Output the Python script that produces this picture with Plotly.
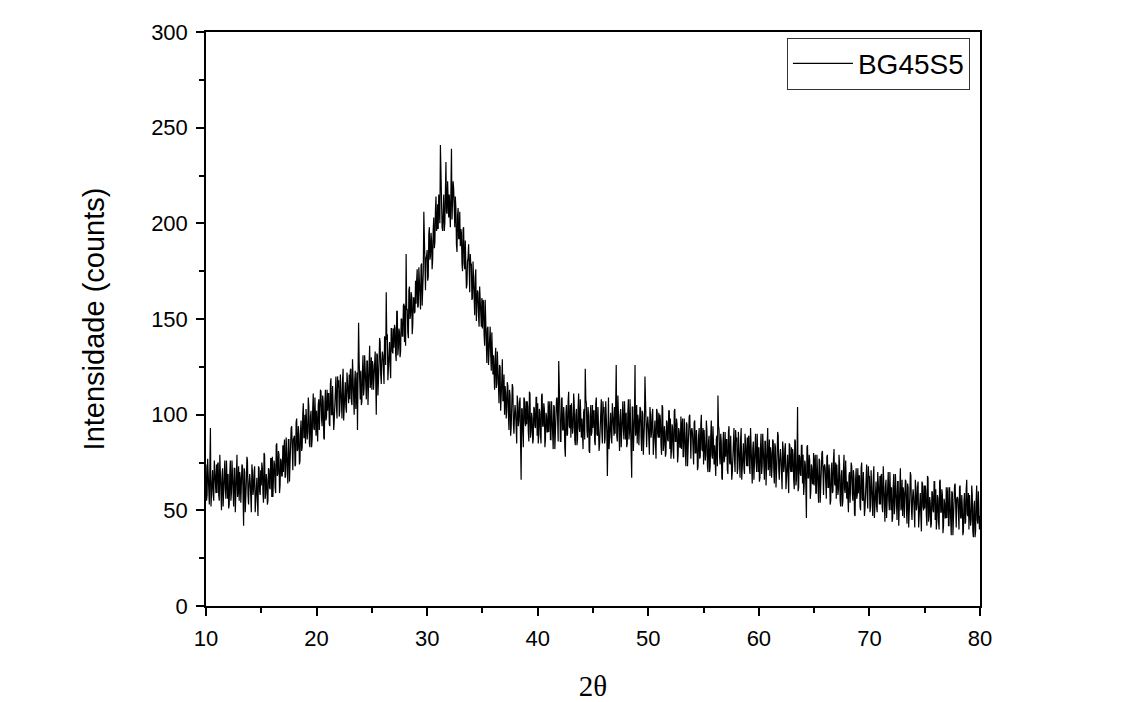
import plotly.graph_objects as go

# 2-theta start (degrees) and step of the sampled pattern
theta_start = 10.0
theta_step = 0.05

# Intensity (counts).
# rNN: samples at NN.0, NN.1, ... NN.9 ; sNN: samples at NN.05, NN.15, ... NN.95
r10 = [74, 58, 69, 53, 93, 62, 71, 55, 67, 59]
s10 = [55, 77, 61, 73, 52, 70, 58, 76, 63, 74]
r11 = [59, 75, 55, 67, 50, 72, 62, 76, 56, 69]
s11 = [74, 58, 79, 55, 68, 52, 71, 61, 76, 56]
r12 = [69, 53, 76, 59, 65, 52, 72, 57, 79, 60]
s12 = [51, 69, 55, 76, 60, 72, 49, 67, 57, 73]
r13 = [55, 67, 60, 73, 42, 70, 54, 78, 58, 64]
s13 = [70, 54, 74, 58, 72, 49, 65, 76, 53, 69]
r14 = [65, 49, 70, 61, 73, 55, 67, 47, 72, 58]
s14 = [52, 74, 58, 70, 49, 67, 55, 73, 60, 71]
r15 = [63, 72, 54, 79, 59, 66, 55, 71, 61, 77]
s15 = [75, 59, 80, 56, 69, 53, 72, 62, 77, 57]
r16 = [78, 63, 74, 59, 85, 69, 79, 63, 76, 68]
s16 = [57, 76, 62, 84, 68, 81, 59, 77, 68, 84]
r17 = [70, 87, 68, 80, 64, 87, 78, 93, 73, 87]
s17 = [82, 67, 88, 72, 87, 65, 82, 94, 71, 88]
r18 = [89, 74, 98, 82, 89, 76, 97, 83, 106, 88]
s18 = [73, 96, 81, 94, 74, 92, 81, 100, 88, 100]
r19 = [85, 97, 91, 104, 83, 102, 87, 111, 92, 98]
s19 = [103, 87, 109, 85, 99, 83, 103, 93, 109, 89]
r20 = [102, 86, 108, 99, 112, 94, 107, 87, 113, 99]
s20 = [87, 105, 92, 113, 98, 110, 88, 106, 97, 113]
r21 = [102, 111, 94, 119, 100, 107, 97, 113, 104, 120]
s21 = [111, 95, 116, 100, 115, 92, 109, 120, 98, 114]
r22 = [118, 102, 114, 98, 124, 108, 117, 101, 114, 106]
s22 = [99, 121, 106, 118, 97, 116, 104, 122, 110, 121]
r23 = [108, 124, 105, 117, 100, 123, 113, 92, 148, 121]
s23 = [123, 107, 129, 105, 118, 103, 122, 112, 128, 108]
r24 = [123, 107, 131, 114, 120, 108, 128, 113, 136, 117]
s24 = [105, 123, 110, 131, 115, 128, 105, 123, 114, 130]
r25 = [113, 126, 119, 133, 100, 131, 116, 140, 121, 128]
s25 = [128, 113, 133, 118, 132, 110, 127, 138, 116, 133]
r26 = [131, 116, 138, 164, 142, 125, 138, 119, 145, 132]
s26 = [118, 141, 126, 139, 118, 137, 126, 145, 133, 145]
r27 = [135, 145, 128, 154, 135, 143, 133, 150, 141, 158]
s27 = [147, 132, 154, 131, 145, 130, 150, 141, 157, 138]
r28 = [157, 184, 155, 140, 167, 152, 162, 147, 161, 154]
s28 = [136, 155, 143, 165, 150, 164, 142, 161, 153, 170]
r29 = [158, 176, 157, 171, 155, 179, 170, 206, 167, 182]
s29 = [170, 156, 177, 163, 178, 157, 174, 187, 165, 183]
r30 = [186, 172, 198, 183, 191, 181, 203, 190, 214, 198]
s30 = [170, 194, 181, 195, 176, 197, 187, 207, 196, 210]
r31 = [197, 210, 241, 217, 196, 215, 200, 232, 205, 212]
s31 = [215, 200, 221, 198, 212, 196, 216, 206, 222, 203]
r32 = [215, 198, 239, 208, 218, 198, 208, 185, 208, 192]
s32 = [200, 217, 202, 222, 204, 214, 189, 204, 192, 206]
r33 = [188, 195, 175, 198, 176, 181, 168, 182, 170, 184]
s33 = [197, 179, 197, 179, 191, 166, 180, 189, 164, 178]
r34 = [179, 161, 170, 152, 176, 157, 164, 146, 156, 146]
s34 = [160, 180, 162, 172, 149, 165, 151, 167, 152, 161]
r35 = [145, 159, 136, 146, 127, 146, 134, 146, 123, 134]
s35 = [160, 142, 160, 134, 145, 126, 143, 131, 143, 121]
r36 = [131, 113, 135, 116, 121, 106, 125, 108, 129, 108]
s36 = [113, 129, 114, 133, 116, 126, 102, 118, 107, 121]
r37 = [100, 111, 103, 115, 92, 110, 93, 116, 95, 100]
s37 = [115, 98, 117, 100, 113, 89, 104, 114, 90, 105]
r38 = [101, 85, 106, 97, 109, 66, 103, 83, 108, 94]
s38 = [88, 110, 94, 106, 85, 103, 91, 109, 96, 107]
r39 = [95, 104, 86, 111, 91, 98, 87, 103, 93, 109]
s39 = [107, 91, 112, 88, 101, 85, 104, 94, 109, 89]
r40 = [106, 90, 101, 85, 111, 94, 103, 87, 99, 91]
s40 = [85, 103, 89, 110, 94, 106, 83, 101, 91, 107]
r41 = [91, 107, 87, 99, 82, 104, 94, 108, 88, 128]
s41 = [103, 87, 107, 91, 105, 82, 98, 109, 86, 102]
r42 = [102, 86, 109, 92, 98, 78, 105, 90, 112, 93]
s42 = [86, 108, 92, 104, 83, 101, 89, 107, 94, 105]
r43 = [88, 100, 93, 106, 84, 103, 87, 111, 91, 97]
s43 = [106, 90, 111, 87, 100, 84, 103, 93, 108, 88]
r44 = [98, 82, 103, 124, 106, 88, 100, 80, 105, 91]
s44 = [83, 101, 87, 108, 92, 104, 81, 99, 89, 105]
r45 = [93, 102, 84, 109, 89, 96, 85, 101, 91, 107]
s45 = [102, 86, 106, 90, 104, 81, 97, 108, 85, 101]
r46 = [104, 88, 99, 68, 109, 92, 101, 85, 97, 89]
s46 = [85, 107, 91, 103, 82, 100, 88, 106, 93, 104]
r47 = [90, 126, 86, 98, 81, 103, 93, 107, 87, 100]
s47 = [105, 89, 110, 86, 99, 83, 102, 92, 107, 87]
r48 = [101, 85, 108, 91, 97, 67, 104, 89, 126, 92]
s48 = [83, 101, 87, 108, 92, 104, 81, 99, 89, 105]
r49 = [85, 97, 90, 103, 81, 100, 84, 120, 88, 94]
s49 = [100, 84, 104, 88, 102, 79, 95, 106, 83, 99]
r50 = [95, 79, 100, 91, 103, 85, 97, 77, 102, 88]
s50 = [82, 104, 88, 100, 79, 97, 85, 103, 90, 101]
r51 = [88, 97, 79, 104, 84, 91, 80, 96, 86, 102]
s51 = [100, 84, 105, 81, 94, 78, 97, 87, 102, 82]
r52 = [98, 82, 93, 77, 103, 86, 95, 79, 91, 83]
s52 = [77, 95, 81, 102, 86, 98, 75, 93, 83, 99]
r53 = [82, 98, 78, 90, 73, 95, 85, 99, 79, 92]
s53 = [94, 78, 98, 82, 96, 73, 89, 100, 77, 93]
r54 = [90, 74, 97, 80, 86, 73, 93, 78, 100, 81]
s54 = [74, 96, 80, 92, 71, 89, 77, 95, 82, 93]
r55 = [74, 86, 79, 92, 70, 89, 73, 97, 77, 83]
s55 = [92, 76, 97, 73, 86, 70, 89, 79, 94, 74]
r56 = [84, 68, 89, 110, 92, 74, 86, 66, 91, 77]
s56 = [69, 87, 73, 94, 78, 90, 67, 85, 75, 91]
r57 = [78, 87, 69, 94, 74, 81, 70, 86, 76, 92]
s57 = [87, 71, 91, 75, 89, 66, 82, 93, 70, 86]
r58 = [88, 72, 83, 67, 93, 76, 85, 69, 81, 73]
s58 = [69, 91, 75, 87, 66, 84, 72, 90, 77, 88]
r59 = [73, 89, 69, 81, 64, 86, 76, 90, 70, 83]
s59 = [88, 72, 93, 69, 82, 66, 85, 75, 90, 70]
r60 = [83, 67, 90, 73, 79, 66, 86, 71, 93, 74]
s60 = [65, 83, 69, 90, 74, 86, 63, 81, 71, 87]
r61 = [68, 80, 73, 86, 64, 83, 67, 91, 71, 77]
s61 = [83, 67, 87, 71, 85, 62, 78, 89, 66, 82]
r62 = [77, 61, 82, 73, 85, 67, 79, 59, 84, 70]
s62 = [64, 86, 70, 82, 61, 79, 67, 85, 72, 83]
r63 = [70, 79, 61, 86, 66, 104, 62, 78, 68, 84]
s63 = [82, 66, 87, 63, 76, 60, 79, 69, 84, 64]
r64 = [79, 63, 74, 46, 84, 67, 76, 60, 72, 64]
s64 = [58, 76, 62, 83, 67, 79, 56, 74, 64, 80]
r65 = [63, 79, 59, 71, 54, 76, 66, 80, 60, 73]
s65 = [75, 59, 79, 63, 77, 54, 70, 81, 58, 74]
r66 = [72, 56, 79, 62, 68, 55, 75, 60, 82, 63]
s66 = [56, 78, 62, 74, 53, 71, 59, 77, 64, 75]
r67 = [56, 68, 61, 74, 52, 71, 55, 79, 59, 65]
s67 = [74, 58, 79, 55, 68, 52, 71, 61, 76, 56]
r68 = [65, 49, 70, 61, 73, 55, 67, 47, 72, 58]
s68 = [50, 68, 54, 75, 59, 71, 48, 66, 56, 72]
r69 = [59, 68, 50, 75, 55, 62, 51, 67, 57, 73]
s69 = [68, 52, 72, 56, 70, 47, 63, 74, 51, 67]
r70 = [68, 52, 63, 47, 73, 56, 65, 49, 61, 53]
s70 = [49, 71, 55, 67, 46, 64, 52, 70, 57, 68]
r71 = [53, 69, 49, 61, 44, 66, 56, 70, 50, 63]
s71 = [68, 52, 73, 49, 62, 46, 65, 55, 70, 50]
r72 = [62, 46, 69, 52, 58, 45, 65, 50, 72, 53]
s72 = [44, 62, 48, 69, 53, 65, 42, 60, 50, 66]
r73 = [47, 59, 52, 65, 43, 62, 46, 70, 50, 56]
s73 = [62, 46, 66, 50, 64, 41, 57, 68, 45, 61]
r74 = [57, 41, 62, 53, 65, 47, 59, 39, 64, 50]
s74 = [44, 66, 50, 62, 41, 59, 47, 65, 52, 63]
r75 = [51, 60, 42, 67, 47, 54, 43, 59, 49, 65]
s75 = [63, 47, 68, 44, 57, 41, 60, 50, 65, 45]
r76 = [61, 45, 56, 40, 66, 49, 58, 42, 54, 46]
s76 = [40, 58, 44, 65, 49, 61, 38, 56, 46, 62]
r77 = [46, 62, 42, 54, 37, 59, 49, 63, 43, 56]
s77 = [58, 42, 62, 46, 60, 37, 53, 64, 41, 57]
r78 = [56, 40, 63, 46, 52, 39, 59, 44, 66, 47]
s78 = [40, 62, 46, 58, 37, 55, 43, 61, 48, 59]
r79 = [40, 52, 45, 58, 36, 55, 39, 63, 43, 49]
s79 = [58, 42, 63, 39, 52, 36, 55, 45, 60, 40]
r80 = [47]

whole_rows = [r10, r11, r12, r13, r14, r15, r16, r17, r18, r19,
              r20, r21, r22, r23, r24, r25, r26, r27, r28, r29,
              r30, r31, r32, r33, r34, r35, r36, r37, r38, r39,
              r40, r41, r42, r43, r44, r45, r46, r47, r48, r49,
              r50, r51, r52, r53, r54, r55, r56, r57, r58, r59,
              r60, r61, r62, r63, r64, r65, r66, r67, r68, r69,
              r70, r71, r72, r73, r74, r75, r76, r77, r78, r79]
half_rows = [s10, s11, s12, s13, s14, s15, s16, s17, s18, s19,
             s20, s21, s22, s23, s24, s25, s26, s27, s28, s29,
             s30, s31, s32, s33, s34, s35, s36, s37, s38, s39,
             s40, s41, s42, s43, s44, s45, s46, s47, s48, s49,
             s50, s51, s52, s53, s54, s55, s56, s57, s58, s59,
             s60, s61, s62, s63, s64, s65, s66, s67, s68, s69,
             s70, s71, s72, s73, s74, s75, s76, s77, s78, s79]

intensity = []
for rr, ss in zip(whole_rows, half_rows):
    for a, b in zip(rr, ss):
        intensity.extend([a, b])
intensity.extend(r80)
two_theta = [round(theta_start + i * theta_step, 2) for i in range(len(intensity))]

series_name = "BG45S5"
x_title = "2θ"
y_title = "Intensidade (counts)"
x_ticks = [10, 20, 30, 40, 50, 60, 70, 80]
y_ticks = [0, 50, 100, 150, 200, 250, 300]

fig = go.Figure()
fig.add_trace(go.Scatter(
    x=two_theta, y=intensity, mode="lines", name=series_name,
    line=dict(color="black", width=1.2),
))

axis_common = dict(
    showgrid=False, zeroline=False, showline=True, linecolor="black",
    linewidth=1.5, mirror=True, ticks="outside", ticklen=8, tickwidth=1.5,
    tickcolor="black", ticklabelstandoff=4,
    tickfont=dict(family="Liberation Sans, Arial", size=22, color="black"),
)

fig.update_xaxes(
    range=[10, 80], tickvals=x_ticks,
    minor=dict(dtick=5, ticks="outside", ticklen=5, tickwidth=1.5, tickcolor="black"),
    title=dict(text=x_title, font=dict(family="Liberation Serif, Times New Roman", size=29, color="black"), standoff=26),
    **axis_common,
)
fig.update_yaxes(
    range=[0, 300], tickvals=y_ticks,
    minor=dict(dtick=25, ticks="outside", ticklen=5, tickwidth=1.5, tickcolor="black"),
    title=dict(text=y_title, font=dict(family="Liberation Sans, Arial", size=29, color="black"), standoff=38),
    **axis_common,
)

fig.update_layout(
    width=1126, height=702,
    margin=dict(l=198, r=154, t=22, b=104),
    plot_bgcolor="white", paper_bgcolor="white",
    showlegend=True,
    legend=dict(
        x=0.987, y=0.99, xanchor="right", yanchor="top",
        bgcolor="white", bordercolor="#333333", borderwidth=1,
        font=dict(family="Liberation Sans, Arial", size=28, color="black"),
        itemwidth=60,
    ),
)

fig.write_html("out.html")
